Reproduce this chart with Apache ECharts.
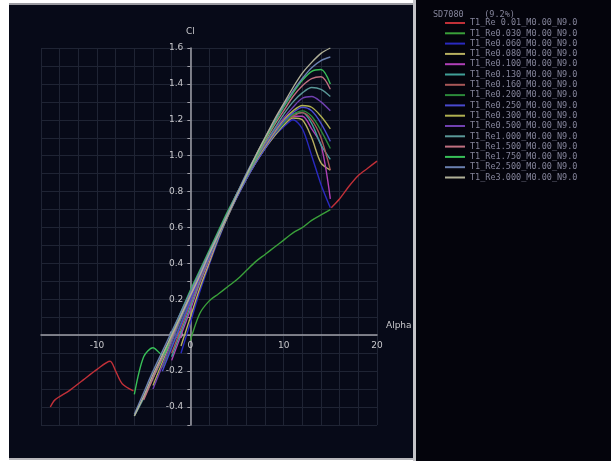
<!DOCTYPE html>
<html>
<head>
<meta charset="utf-8">
<title>SD7080 Cl vs Alpha</title>
<script src="https://cdn.jsdelivr.net/npm/echarts@6/dist/echarts.min.js"></script>
<style>
  html, body { margin: 0; padding: 0; background: #ffffff; }
  #wrap { position: relative; width: 611px; height: 461px; overflow: hidden; }
  .panel { position: absolute; }
  #chart { position: absolute; left: 0; top: 0; width: 611px; height: 461px; }
</style>
</head>
<body>
<div id="wrap">
  <div class="panel" style="left:9px; top:3px; width:404px; height:2px; background:#9a9aa0"></div>
  <div class="panel" style="left:9px; top:5px; width:404px; height:453px; background:#070a18"></div>
  <div class="panel" style="left:9px; top:458px; width:404px; height:2px; background:#b8b8bc"></div>
  <div class="panel" style="left:413px; top:0; width:3px; height:461px; background:#c4c4c8"></div>
  <div class="panel" style="left:416px; top:0; width:195px; height:461px; background:#04040c"></div>
  <div id="chart"></div>
</div>
<script>
  // angle of attack grid shared by most polars
  const alpha = [-6, -5, -4, -3, -2, -1, 0, 1, 2, 3, 4, 5, 6, 7, 8, 9, 10, 11, 12, 13, 14, 15]

  // lowest Re polar: two separate converged pieces
  const redLowAlpha = [-15, -14.5, -13, -11.5, -10, -8.6, -8, -7.3, -6.1]
  const redLowCl = [-0.4, -0.36, -0.31, -0.25, -0.19, -0.145, -0.2, -0.27, -0.31]
  const redHighAlpha = [15.1, 16, 17, 18, 19, 20]
  const redHighCl = [0.71, 0.76, 0.83, 0.89, 0.93, 0.97]

  const re0030 = [null, null, null, null, null, null, -0.03, 0.12, 0.19, 0.23, 0.27, 0.31, 0.36, 0.41, 0.45, 0.49, 0.53, 0.57, 0.6, 0.64, 0.67, 0.7]
  const re0060 = [null, null, null, null, null, -0.1, 0.07, 0.24, 0.39, 0.53, 0.66, 0.77, 0.87, 0.96, 1.04, 1.11, 1.16, 1.2, 1.15, 1.0, 0.84, 0.71]
  const re0080 = [null, null, null, null, null, -0.06, 0.1, 0.26, 0.4, 0.54, 0.66, 0.77, 0.87, 0.96, 1.04, 1.11, 1.17, 1.21, 1.2, 1.1, 0.96, 0.92]
  const re0100 = [null, null, null, null, -0.14, 0.0, 0.14, 0.29, 0.42, 0.55, 0.67, 0.78, 0.88, 0.97, 1.05, 1.12, 1.18, 1.22, 1.22, 1.15, 1.06, 0.76]
  const re0130 = [null, null, null, null, -0.12, 0.02, 0.16, 0.3, 0.43, 0.55, 0.67, 0.78, 0.88, 0.97, 1.05, 1.12, 1.18, 1.23, 1.24, 1.18, 1.06, 0.98]
  const re0160 = [null, null, null, null, -0.1, 0.04, 0.18, 0.31, 0.44, 0.56, 0.67, 0.78, 0.88, 0.97, 1.05, 1.12, 1.18, 1.22, 1.24, 1.2, 1.1, 0.92]
  const re0200 = [null, null, null, -0.18, -0.06, 0.07, 0.2, 0.33, 0.45, 0.57, 0.68, 0.78, 0.88, 0.97, 1.05, 1.12, 1.18, 1.23, 1.25, 1.22, 1.14, 1.04]
  const re0250 = [null, null, null, -0.2, -0.07, 0.06, 0.19, 0.32, 0.44, 0.56, 0.67, 0.77, 0.87, 0.96, 1.04, 1.12, 1.19, 1.24, 1.27, 1.25, 1.18, 1.08]
  const re0300 = [null, null, -0.28, -0.15, -0.03, 0.1, 0.22, 0.34, 0.46, 0.57, 0.68, 0.78, 0.88, 0.97, 1.05, 1.13, 1.2, 1.25, 1.28, 1.27, 1.22, 1.15]
  const re0500 = [null, null, -0.3, -0.17, -0.04, 0.09, 0.21, 0.33, 0.45, 0.56, 0.67, 0.78, 0.88, 0.98, 1.06, 1.14, 1.21, 1.27, 1.32, 1.33, 1.3, 1.25]
  const re1000 = [-0.45, -0.35, -0.24, -0.13, -0.02, 0.1, 0.22, 0.34, 0.45, 0.56, 0.67, 0.78, 0.88, 0.98, 1.07, 1.15, 1.23, 1.3, 1.35, 1.38, 1.37, 1.33]
  const re1500 = [null, -0.36, -0.24, -0.12, -0.01, 0.11, 0.23, 0.35, 0.46, 0.57, 0.68, 0.79, 0.89, 0.99, 1.08, 1.17, 1.25, 1.33, 1.39, 1.43, 1.44, 1.37]
  const re1750 = [-0.33, -0.12, -0.07, -0.11, 0.01, 0.13, 0.25, 0.36, 0.47, 0.58, 0.69, 0.79, 0.89, 0.99, 1.09, 1.18, 1.27, 1.35, 1.42, 1.47, 1.48, 1.4]
  const re2500 = [-0.44, -0.32, -0.2, -0.09, 0.02, 0.13, 0.24, 0.35, 0.46, 0.57, 0.68, 0.79, 0.9, 1.0, 1.1, 1.19, 1.28, 1.36, 1.43, 1.49, 1.53, 1.55]
  const re3000 = [-0.45, -0.34, -0.22, -0.11, 0.0, 0.11, 0.22, 0.33, 0.45, 0.56, 0.67, 0.78, 0.89, 1.0, 1.1, 1.2, 1.29, 1.38, 1.46, 1.52, 1.57, 1.6]

  const polarNames = [
    'T1_Re 0.01_M0.00_N9.0', 'T1_Re0.030_M0.00_N9.0', 'T1_Re0.060_M0.00_N9.0', 'T1_Re0.080_M0.00_N9.0',
    'T1_Re0.100_M0.00_N9.0', 'T1_Re0.130_M0.00_N9.0', 'T1_Re0.160_M0.00_N9.0', 'T1_Re0.200_M0.00_N9.0',
    'T1_Re0.250_M0.00_N9.0', 'T1_Re0.300_M0.00_N9.0', 'T1_Re0.500_M0.00_N9.0', 'T1_Re1.000_M0.00_N9.0',
    'T1_Re1.500_M0.00_N9.0', 'T1_Re1.750_M0.00_N9.0', 'T1_Re2.500_M0.00_N9.0', 'T1_Re3.000_M0.00_N9.0',
  ]
  const polarColors = [
    '#c03038', '#3aa03a', '#2a2ac0', '#b8b060', '#b040b8', '#40a098', '#a85858', '#2c8a3a',
    '#4a4ad0', '#b0b050', '#7040b0', '#5a9898', '#c07080', '#38c058', '#6a80b0', '#b0b098',
  ]
  const clSets = [null, re0030, re0060, re0080, re0100, re0130, re0160, re0200,
    re0250, re0300, re0500, re1000, re1500, re1750, re2500, re3000]

  const xMin = -16
  const xMax = 20
  const yMin = -0.5
  const yMax = 1.6

  const pairs = (xs, ys) => xs.map((x, i) => [x, ys[i]])

  const chart = echarts.init(document.getElementById('chart'))

  const series = polarNames.map((name, i) => {
    let data
    if (i === 0) {
      data = pairs(redLowAlpha, redLowCl).concat([[0, null]], pairs(redHighAlpha, redHighCl))
    } else {
      data = pairs(alpha, clSets[i])
    }
    return {
      name,
      type: 'line',
      data,
      showSymbol: false,
      symbol: 'none',
      smooth: 0.3,
      lineStyle: { color: polarColors[i], width: 1.4 },
      itemStyle: { color: polarColors[i] },
    }
  })

  // axes cross at the origin: shift them from the grid edges into the plot
  const grid = { left: 41, right: 234, top: 48, bottom: 36 }
  const plotW = 611 - grid.left - grid.right
  const plotH = 461 - grid.top - grid.bottom
  const yAxisShift = ((0 - xMin) / (xMax - xMin)) * plotW
  const xAxisShift = ((0 - yMin) / (yMax - yMin)) * plotH

  const labelStyle = {
    color: '#c8c8cc',
    fontSize: 9,
    fontFamily: 'DejaVu Sans',
  }
  const gridLine = { lineStyle: { color: '#1f2434', width: 1 } }

  const option = {
    animation: false,
    backgroundColor: 'transparent',
    title: {
      text: 'SD7080    (9.2%)',
      left: 428,
      top: 5,
      textStyle: {
        color: '#84849a',
        fontSize: 8.5,
        fontWeight: 'normal',
        fontFamily: 'DejaVu Sans Mono',
      },
    },
    legend: {
      orient: 'vertical',
      left: 440,
      top: 13,
      itemWidth: 20,
      itemHeight: 2,
      itemGap: 0.3,
      icon: 'rect',
      selectedMode: false,
      data: polarNames,
      textStyle: {
        color: '#84849a',
        fontSize: 8.5,
        lineHeight: 10,
        fontFamily: 'DejaVu Sans Mono',
      },
    },
    grid,
    xAxis: {
      type: 'value',
      min: xMin,
      max: xMax,
      interval: 2,
      offset: -xAxisShift,
      name: 'Alpha',
      nameLocation: 'end',
      nameGap: 9,
      nameTextStyle: { ...labelStyle, verticalAlign: 'bottom', padding: [0, 0, 5, 0] },
      axisLine: { onZero: false, lineStyle: { color: '#a0a0a8', width: 1.5 } },
      axisTick: { show: false },
      axisLabel: {
        ...labelStyle,
        margin: 6,
        hideOverlap: false,
        formatter: (v) => (v % 10 === 0 ? String(v) : ''),
      },
      splitLine: gridLine,
    },
    yAxis: {
      type: 'value',
      min: yMin,
      max: yMax,
      interval: 0.1,
      offset: -yAxisShift,
      name: 'Cl',
      nameLocation: 'end',
      nameGap: 12,
      nameTextStyle: { ...labelStyle, align: 'center' },
      axisLine: { onZero: false, lineStyle: { color: '#a0a0a8', width: 1.5 } },
      axisTick: { show: true, length: 3, lineStyle: { color: '#a0a0a8' } },
      axisLabel: {
        ...labelStyle,
        margin: 7,
        hideOverlap: false,
        formatter: (v) => (Math.round(v * 10) % 2 === 0 ? v.toFixed(1) : ''),
      },
      splitLine: gridLine,
    },
    series,
  }

  chart.setOption(option)
</script>
</body>
</html>
